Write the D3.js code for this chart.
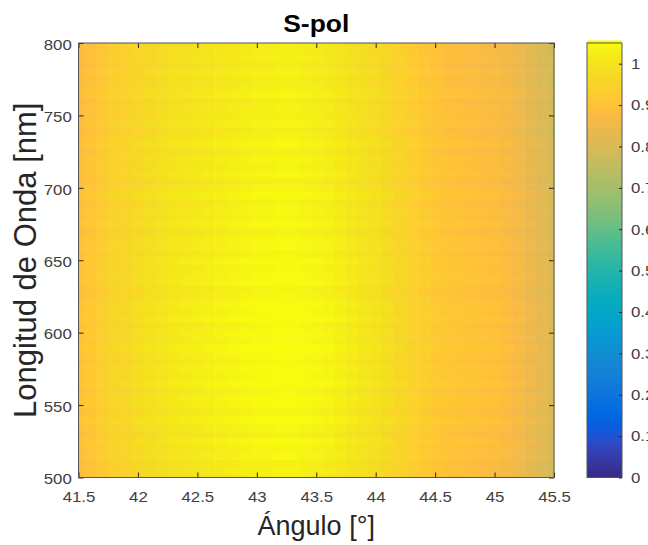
<!DOCTYPE html>
<html><head><meta charset="utf-8">
<script src="https://cdn.jsdelivr.net/npm/d3@7"></script>
<style>
html,body{margin:0;padding:0;background:#fff;}
svg{display:block;font-family:"Liberation Sans",Arial,sans-serif;}
</style></head>
<body>
<svg id="chart" width="648" height="545"></svg>
<script>
// ---- data ----
const angles = d3.range(41).map(i => +(41.5 + i * 0.1).toFixed(1));
const angleProfile = [0.89,0.91,0.93,0.95,0.96,0.975,0.985,0.995,1.005,1.01,
  1.015,1.02,1.025,1.03,1.035,1.04,1.04,1.045,1.045,1.04,
  1.035,1.03,1.02,1.01,1.0,0.99,0.975,0.96,0.945,0.93,
  0.915,0.905,0.9,0.895,0.89,0.885,0.875,0.86,0.84,0.82,0.8];
const wavelengths = d3.range(61).map(i => 500 + i * 5);
const wavelengthShift = [-0.02,-0.01,-0.015,0.0,-0.005,0.005,-0.01,0.0,0.01,-0.005,
  0.005,0.01,0.0,0.015,0.005,0.01,0.0,0.01,0.015,0.005,
  0.01,0.0,0.015,0.005,0.01,0.0,-0.005,0.01,0.005,0.0,
  0.01,-0.005,0.005,0.0,-0.01,0.005,-0.005,0.0,-0.01,0.005,
  -0.005,-0.015,0.0,-0.01,-0.005,-0.015,0.0,-0.01,-0.02,-0.005,
  -0.015,-0.01,-0.02,-0.005,-0.015,-0.02,-0.01,-0.025,-0.015,-0.02,-0.02];
const xTicks = [41.5,42,42.5,43,43.5,44,44.5,45,45.5];
const yTicks = [500,550,600,650,700,750,800];
const cTicks = [0,0.1,0.2,0.3,0.4,0.5,0.6,0.7,0.8,0.9,1];
const titleText = "S-pol";
const xLabel = "Ángulo [°]";
const yLabel = "Longitud de Onda [nm]";

// parula colormap (64 entries)
const parula = [[0.2081,0.1663,0.5292],[0.2116,0.1898,0.5777],[0.2123,0.2138,0.6270],[0.2081,0.2386,0.6771],
[0.1959,0.2645,0.7279],[0.1707,0.2919,0.7792],[0.1253,0.3242,0.8303],[0.0591,0.3598,0.8683],
[0.0117,0.3875,0.8820],[0.0060,0.4086,0.8828],[0.0165,0.4266,0.8786],[0.0329,0.4430,0.8720],
[0.0498,0.4586,0.8641],[0.0629,0.4737,0.8554],[0.0723,0.4887,0.8467],[0.0779,0.5040,0.8384],
[0.0793,0.5200,0.8312],[0.0749,0.5375,0.8263],[0.0641,0.5570,0.8240],[0.0488,0.5772,0.8228],
[0.0343,0.5966,0.8199],[0.0265,0.6137,0.8135],[0.0239,0.6287,0.8038],[0.0231,0.6418,0.7913],
[0.0228,0.6535,0.7768],[0.0267,0.6642,0.7607],[0.0384,0.6743,0.7436],[0.0590,0.6838,0.7254],
[0.0843,0.6928,0.7062],[0.1133,0.7015,0.6859],[0.1453,0.7098,0.6646],[0.1801,0.7177,0.6424],
[0.2178,0.7250,0.6193],[0.2586,0.7317,0.5954],[0.3022,0.7376,0.5712],[0.3482,0.7424,0.5473],
[0.3953,0.7459,0.5244],[0.4420,0.7481,0.5033],[0.4871,0.7491,0.4840],[0.5300,0.7491,0.4661],
[0.5709,0.7485,0.4494],[0.6099,0.7473,0.4337],[0.6473,0.7456,0.4188],[0.6834,0.7435,0.4044],
[0.7184,0.7411,0.3905],[0.7525,0.7384,0.3768],[0.7858,0.7356,0.3633],[0.8185,0.7327,0.3498],
[0.8507,0.7299,0.3360],[0.8824,0.7274,0.3217],[0.9139,0.7258,0.3063],[0.9450,0.7261,0.2886],
[0.9739,0.7314,0.2666],[0.9938,0.7455,0.2403],[0.9990,0.7653,0.2164],[0.9955,0.7861,0.1967],
[0.9880,0.8066,0.1794],[0.9789,0.8271,0.1633],[0.9697,0.8481,0.1475],[0.9626,0.8705,0.1309],
[0.9589,0.8949,0.1132],[0.9598,0.9218,0.0948],[0.9661,0.9514,0.0755],[0.9763,0.9831,0.0538]]
  .map(c => d3.rgb(c[0]*255, c[1]*255, c[2]*255).formatHex());

const cMin = 0, cMax = 1.05;
const color = d3.scaleLinear()
  .domain(parula.map((_, i) => cMin + (cMax - cMin) * i / (parula.length - 1)))
  .range(parula).interpolate(d3.interpolateRgb).clamp(true);

// ---- layout ----
const L = 78.5, R = 554, T = 43, B = 477.5;
const cbL = 587, cbR = 622;
const stretch = 1.12;
const svg = d3.select("#chart");

const x = d3.scaleLinear().domain([41.5, 45.5]).range([L, R]);
const y = d3.scaleLinear().domain([500, 800]).range([B, T]);
const cy = d3.scaleLinear().domain([cMin, cMax]).range([B, T]);

// cells
const dx = 0.1, dy = 5;
const cells = [];
wavelengths.forEach((w, j) => angles.forEach((a, i) => {
  cells.push({a, w, v: angleProfile[i] + wavelengthShift[j]});
}));
svg.append("g").selectAll("rect").data(cells).join("rect")
  .attr("x", d => x(Math.max(41.5, d.a - dx/2)))
  .attr("width", d => x(Math.min(45.5, d.a + dx/2)) - x(Math.max(41.5, d.a - dx/2)) + 0.5)
  .attr("y", d => y(Math.min(800, d.w + dy/2)))
  .attr("height", d => y(Math.max(500, d.w - dy/2)) - y(Math.min(800, d.w + dy/2)) + 0.5)
  .attr("fill", d => color(d.v));

// axes
const tickCol = "#262626";
const styleText = sel => sel.attr("fill", "#404040").style("font-size", "15px")
  .style("font-family", "'Liberation Sans',Arial,sans-serif");
const axB = svg.append("g").attr("transform", `translate(0,${B})`)
  .call(d3.axisBottom(x).tickValues(xTicks).tickSize(-5).tickPadding(14).tickFormat(d3.format("")));
const axT = svg.append("g").attr("transform", `translate(0,${T})`)
  .call(d3.axisTop(x).tickValues(xTicks).tickSize(-5).tickFormat(""));
const axL = svg.append("g").attr("transform", `translate(${L},0)`)
  .call(d3.axisLeft(y).tickValues(yTicks).tickSize(-5).tickPadding(6).tickFormat(d3.format("")));
const axR = svg.append("g").attr("transform", `translate(${R},0)`)
  .call(d3.axisRight(y).tickValues(yTicks).tickSize(-5).tickFormat(""));
[axB, axT, axL, axR].forEach(g => {
  g.select(".domain").remove();
  g.selectAll(".tick line").attr("stroke", tickCol).attr("stroke-width", 1);
  g.selectAll(".tick text").call(styleText).attr("transform", `scale(${stretch},1)`);
});
axL.selectAll(".tick text").attr("dy", "0.42em");
svg.append("rect").attr("x", L).attr("y", T).attr("width", R - L).attr("height", B - T)
  .attr("fill", "none").attr("stroke", "#555").attr("stroke-width", 1);

// colorbar
const cbVals = d3.range(0, 211).map(i => cMin + (cMax - cMin) * i / 210);
svg.append("g").selectAll("rect").data(cbVals).join("rect")
  .attr("x", cbL).attr("width", cbR - cbL)
  .attr("y", d => cy(d) - (B - T) / 210 - 0.5)
  .attr("height", (B - T) / 210 + 1)
  .attr("fill", d => color(d));
svg.append("rect").attr("x", cbL).attr("y", T).attr("width", cbR - cbL).attr("height", B - T)
  .attr("fill", "none").attr("stroke", "#555").attr("stroke-width", 1);
const axC = svg.append("g").attr("transform", `translate(${cbR},0)`)
  .call(d3.axisRight(cy).tickValues(cTicks).tickSize(-3).tickPadding(8).tickFormat(d3.format("")));
axC.select(".domain").remove();
axC.selectAll(".tick line").attr("stroke", tickCol);
axC.selectAll(".tick text").call(styleText).attr("transform", `scale(${stretch},1)`);

// titles
svg.append("text").attr("x", (L + R) / 2).attr("y", 32).attr("text-anchor", "middle")
  .attr("transform", `translate(${(L + R) / 2},0) scale(1.1,1) translate(${-(L + R) / 2},0)`)
  .style("font-size", "24px").style("font-weight", "bold").attr("fill", "#000").text(titleText);
svg.append("text").attr("x", (L + R) / 2).attr("y", 535).attr("text-anchor", "middle")
  .style("font-size", "27px").attr("fill", "#262626").text(xLabel);
svg.append("text").attr("transform", `translate(36,${(T + B) / 2}) rotate(-90)`)
  .attr("text-anchor", "middle").style("font-size", "31px").attr("fill", "#262626").text(yLabel);
</script>
</body></html>
